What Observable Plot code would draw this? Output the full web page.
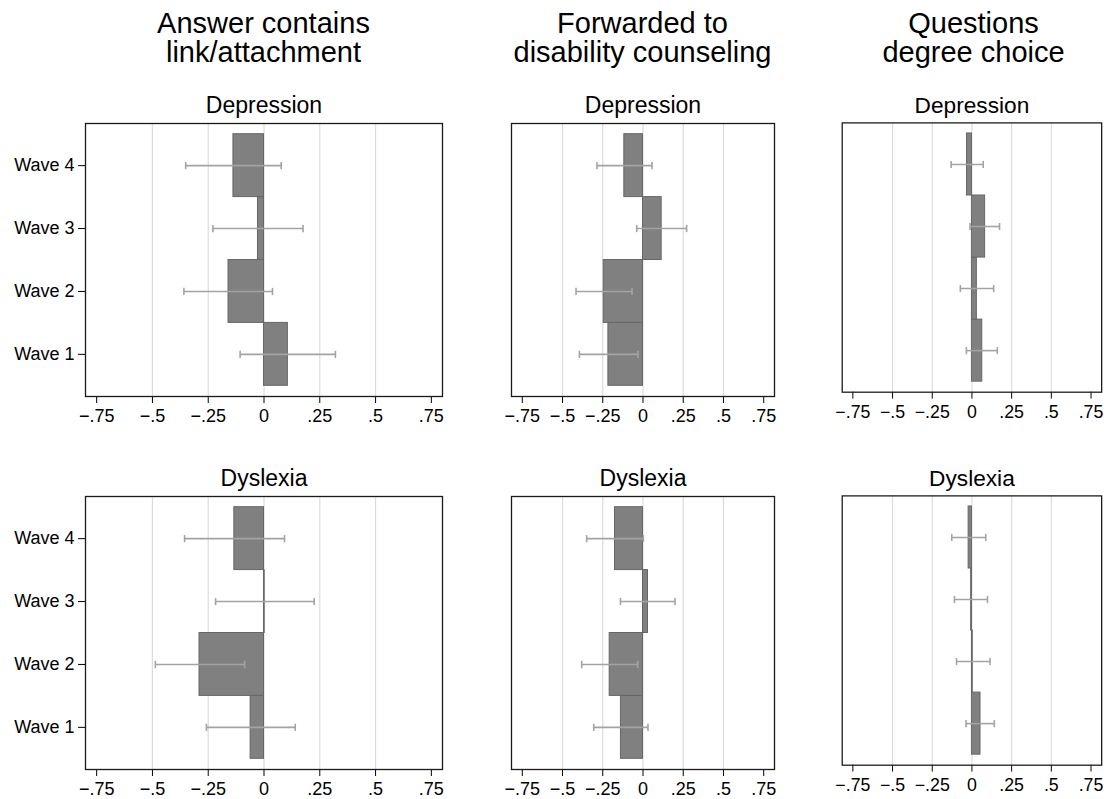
<!DOCTYPE html>
<html><head><meta charset="utf-8">
<script src="https://cdn.jsdelivr.net/npm/d3@7"></script>
<script src="https://cdn.jsdelivr.net/npm/@observablehq/plot@0.6"></script>
<style>
body{margin:0;background:#fff;}
#wrap{position:relative;width:1113px;height:799px;overflow:hidden;background:#fff;font-family:"Liberation Sans",Arial,Helvetica,sans-serif;}
.ct{position:absolute;width:420px;text-align:center;font-size:29px;line-height:29px;color:#000;white-space:nowrap;}
.pl{position:absolute;}
.pl svg{overflow:visible;}
</style></head><body><div id="wrap"></div>
<script>
// ---- data ----
const waves = [1, 2, 3, 4];
const waveLabels = ["Wave 1", "Wave 2", "Wave 3", "Wave 4"];
const xTicks = [-0.75, -0.5, -0.25, 0, 0.25, 0.5, 0.75];
const xTickLabels = ["\u2212.75", "\u2212.5", "\u2212.25", "0", ".25", ".5", ".75"];
const gridTicks = [-0.5, -0.25, 0, 0.25, 0.5];
const columnTitles = ["Answer contains\nlink/attachment", "Forwarded to\ndisability counseling", "Questions\ndegree choice"];
const rowTitles = ["Depression", "Dyslexia"];

// estimates and 95% CI bounds, ordered Wave 1..4
const linkDepEst = [0.107, -0.159, -0.027, -0.137];
const linkDepLo  = [-0.107, -0.359, -0.229, -0.351];
const linkDepHi  = [0.320, 0.038, 0.175, 0.077];
const linkDysEst = [-0.060, -0.289, 0.003, -0.133];
const linkDysLo  = [-0.258, -0.487, -0.217, -0.356];
const linkDysHi  = [0.140, -0.087, 0.225, 0.092];

const fwdDepEst = [-0.215, -0.244, 0.116, -0.116];
const fwdDepLo  = [-0.395, -0.416, -0.039, -0.286];
const fwdDepHi  = [-0.031, -0.068, 0.271, 0.056];
const fwdDysEst = [-0.137, -0.207, 0.031, -0.174];
const fwdDysLo  = [-0.306, -0.381, -0.140, -0.350];
const fwdDysHi  = [0.031, -0.033, 0.199, 0.002];

const degDepEst = [0.065, 0.031, 0.083, -0.031];
const degDepLo  = [-0.035, -0.073, -0.012, -0.131];
const degDepHi  = [0.160, 0.137, 0.174, 0.071];
const degDysEst = [0.054, 0.005, -0.005, -0.021];
const degDysLo  = [-0.037, -0.097, -0.110, -0.127];
const degDysHi  = [0.141, 0.114, 0.098, 0.087];

const panelSeries = [
  [[linkDepEst, linkDepLo, linkDepHi], [linkDysEst, linkDysLo, linkDysHi]],
  [[fwdDepEst, fwdDepLo, fwdDepHi], [fwdDysEst, fwdDysLo, fwdDysHi]],
  [[degDepEst, degDepLo, degDepHi], [degDysEst, degDysLo, degDysHi]]
];

// ---- layout ----
const colFrameLeft = [85, 511, 842];
const colFrameRight = [442, 774, 1105];
const colDomains = [[-0.8, 0.8], [-0.817, 0.817], [-0.817, 0.817]];
const rowFrameTop = [123, 496];
const rowFrameBottom = [396, 769];
const yDomain = [0.33, 4.67];
const font = '"Liberation Sans", Arial, Helvetica, sans-serif';

const wrap = document.getElementById("wrap");

// column titles
columnTitles.forEach((t, c) => {
  const div = document.createElement("div");
  div.className = "ct";
  const cx = (colFrameLeft[c] + colFrameRight[c]) / 2;
  div.style.left = (cx - 210) + "px";
  div.style.top = "9px";
  div.innerHTML = t.split("\n").join("<br>");
  wrap.appendChild(div);
});

const capSymbol = {
  draw(ctx, size) {
    const r = Math.sqrt(size / Math.PI);
    ctx.moveTo(0, -r);
    ctx.lineTo(0, r);
  }
};

for (let c = 0; c < 3; c++) {
  for (let r = 0; r < 2; r++) {
    const [est, lo, hi] = panelSeries[c][r];
    const data = waves.map((w, i) => ({wave: w, est: est[i], lo: lo[i], hi: hi[i]}));
    const mL = c === 0 ? 85 : 20, mR = 12, mT = 44, mB = 40;
    const fl = colFrameLeft[c], fr = colFrameRight[c], ft = rowFrameTop[r], fb = rowFrameBottom[r];
    const width = mL + (fr - fl) + mR;
    const height = mT + (fb - ft) + mB;
    const chart = Plot.plot({
      width, height,
      marginLeft: mL, marginRight: mR, marginTop: mT, marginBottom: mB,
      style: {fontFamily: font, fontSize: "18px", background: "transparent", color: "#000", overflow: "visible"},
      x: {domain: colDomains[c], ticks: xTicks, tickFormat: d => xTickLabels[xTicks.indexOf(d)], tickSize: 7, tickPadding: 6, label: null},
      y: {domain: yDomain, ticks: waves, tickFormat: d => waveLabels[waves.indexOf(d)], tickSize: 7, tickPadding: 4, label: null, axis: c === 0 ? "left" : null},
      marks: [
        Plot.ruleX(gridTicks, {stroke: "#dcdcdc", strokeWidth: 1.2}),
        Plot.rect(data, {x1: 0, x2: "est", y1: d => d.wave - 0.5, y2: d => d.wave + 0.5, fill: "#808080", stroke: "#666666", strokeWidth: 1}),
        Plot.link(data, {x1: "lo", x2: "hi", y1: "wave", y2: "wave", stroke: "#a3a3a3", strokeWidth: 1.6}),
        Plot.dot(data, {x: "lo", y: "wave", symbol: capSymbol, r: 3.6, fill: "none", stroke: "#a3a3a3", strokeWidth: 1.6}),
        Plot.dot(data, {x: "hi", y: "wave", symbol: capSymbol, r: 3.6, fill: "none", stroke: "#a3a3a3", strokeWidth: 1.6}),
        Plot.text([rowTitles[r]], {frameAnchor: "top", dy: -10.5, lineAnchor: "bottom", fontSize: 23, fill: "#000"}),
        Plot.frame({stroke: "#1a1a1a", strokeWidth: 1.3})
      ]
    });
    const holder = document.createElement("div");
    holder.className = "pl";
    holder.style.left = (fl - mL) + "px";
    holder.style.top = (ft - mT) + "px";
    holder.appendChild(chart);
    wrap.appendChild(holder);
  }
}
</script></body></html>
